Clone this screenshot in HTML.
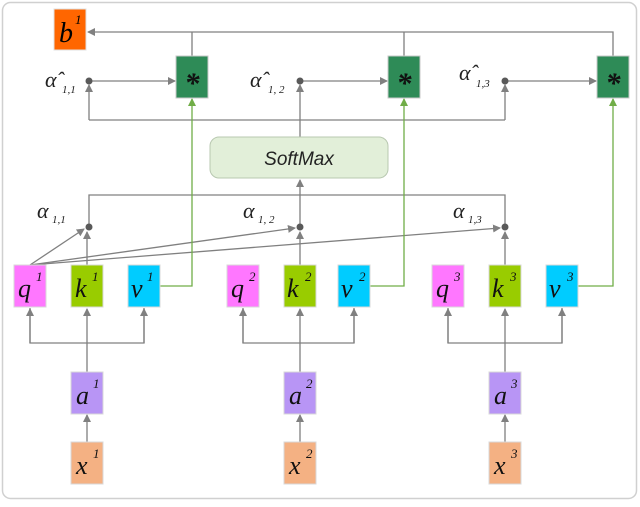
<!DOCTYPE html>
<html><head><style>
body{margin:0;background:#fff}
svg text{font-family:"Liberation Serif",serif;font-style:italic}
</style></head><body>
<svg width="640" height="502" viewBox="0 0 640 502" xmlns="http://www.w3.org/2000/svg">
<defs>
<marker id="g" markerWidth="8" markerHeight="8" refX="7" refY="4" orient="auto" markerUnits="userSpaceOnUse"><path d="M0,0 L8,4 L0,8 z" fill="#808080"/></marker>
<marker id="gr" markerWidth="8" markerHeight="8" refX="7" refY="4" orient="auto" markerUnits="userSpaceOnUse"><path d="M0,0 L8,4 L0,8 z" fill="#70ad47"/></marker>
</defs>
<rect x="2.5" y="2.5" width="634" height="496" rx="8" fill="#fff" stroke="#d0d0d0" stroke-width="1.5"/>
<g stroke="#808080" stroke-width="1.3" fill="none">
<!-- top line to b1 -->
<polyline points="613,56 613,32 88,32" marker-end="url(#g)"/>
<line x1="192" y1="56" x2="192" y2="32"/>
<line x1="404" y1="56" x2="404" y2="32"/>
<!-- alpha hat to stars -->
<line x1="89" y1="81" x2="175" y2="81" marker-end="url(#g)"/>
<line x1="300" y1="81" x2="387" y2="81" marker-end="url(#g)"/>
<line x1="505" y1="81" x2="596" y2="81" marker-end="url(#g)"/>
<!-- softmax output -->
<line x1="89" y1="120" x2="505" y2="120"/>
<line x1="89" y1="120" x2="89" y2="85" marker-end="url(#g)"/>
<line x1="300" y1="137" x2="300" y2="85" marker-end="url(#g)"/>
<line x1="505" y1="120" x2="505" y2="85" marker-end="url(#g)"/>
<!-- softmax input -->
<polyline points="89,227 89,195 505,195 505,227"/>
<line x1="300" y1="227" x2="300" y2="180" marker-end="url(#g)"/>
<!-- k to dots -->
<line x1="87" y1="265" x2="87" y2="232" marker-end="url(#g)"/>
<line x1="300" y1="265" x2="300" y2="232" marker-end="url(#g)"/>
<line x1="505" y1="265" x2="505" y2="232" marker-end="url(#g)"/>
<!-- q1 to dots -->
<line x1="30" y1="265" x2="84" y2="229" marker-end="url(#g)"/>
<line x1="30" y1="265" x2="295" y2="228" marker-end="url(#g)"/>
<line x1="30" y1="265" x2="500" y2="228" marker-end="url(#g)"/>
<!-- a to qkv -->
<polyline points="30,308 30,343 144,343 144,308" />
<line x1="30" y1="343" x2="30" y2="309" marker-end="url(#g)"/>
<line x1="144" y1="343" x2="144" y2="309" marker-end="url(#g)"/>
<line x1="87" y1="372" x2="87" y2="309" marker-end="url(#g)"/>
<polyline points="243,308 243,343 354,343 354,308"/>
<line x1="243" y1="343" x2="243" y2="309" marker-end="url(#g)"/>
<line x1="354" y1="343" x2="354" y2="309" marker-end="url(#g)"/>
<line x1="300" y1="372" x2="300" y2="309" marker-end="url(#g)"/>
<polyline points="448,308 448,343 562,343 562,308"/>
<line x1="448" y1="343" x2="448" y2="309" marker-end="url(#g)"/>
<line x1="562" y1="343" x2="562" y2="309" marker-end="url(#g)"/>
<line x1="505" y1="372" x2="505" y2="309" marker-end="url(#g)"/>
<!-- x to a -->
<line x1="87" y1="442" x2="87" y2="415" marker-end="url(#g)"/>
<line x1="300" y1="442" x2="300" y2="415" marker-end="url(#g)"/>
<line x1="505" y1="442" x2="505" y2="415" marker-end="url(#g)"/>
</g>
<g stroke="#70ad47" stroke-width="1.3" fill="none">
<polyline points="160,286 192,286 192,99" marker-end="url(#gr)"/>
<polyline points="369,286 404,286 404,99" marker-end="url(#gr)"/>
<polyline points="578,286 613,286 613,99" marker-end="url(#gr)"/>
</g>
<g fill="#595959">
<circle cx="89" cy="81" r="3.5"/><circle cx="300" cy="81" r="3.5"/><circle cx="505" cy="81" r="3.5"/>
<circle cx="89" cy="227" r="3.5"/><circle cx="300" cy="227" r="3.5"/><circle cx="505" cy="227" r="3.5"/>
</g>
<!-- boxes -->
<rect x="54" y="9" width="32" height="41" fill="#ff6600" stroke="#e0e0e0"/>
<text x="59" y="42" font-size="28">b</text><text x="75" y="24" font-size="13" font-style="normal">1</text>
<g fill="#2e8b57" stroke="#c8c8c8">
<rect x="176" y="56" width="32" height="42"/><rect x="388" y="56" width="32" height="42"/><rect x="597" y="56" width="32" height="42"/>
</g>
<g font-size="30" font-style="normal" font-weight="bold" fill="#111" text-anchor="middle" style="font-family:'DejaVu Sans',sans-serif">
<text x="192" y="93">*</text><text x="404" y="93">*</text><text x="613" y="93">*</text>
</g>
<rect x="210" y="137" width="178" height="41" rx="9" fill="#e2efd9" stroke="#b8c8b0"/>
<text x="299" y="165" font-size="19" font-style="normal" text-anchor="middle" style="font-family:'Liberation Sans',sans-serif" fill="#222">SoftMax</text>
<!-- alpha labels -->
<g fill="#222">
<text x="45" y="87" font-size="22">α̂</text><text x="62" y="93" font-size="11" font-style="normal">1,1</text>
<text x="250" y="87" font-size="22">α̂</text><text x="268" y="93" font-size="11" font-style="normal">1, 2</text>
<text x="459" y="80" font-size="22">α̂</text><text x="476" y="87" font-size="11" font-style="normal">1,3</text>
<text x="37" y="218" font-size="22">α</text><text x="52" y="223" font-size="11" font-style="normal">1,1</text>
<text x="243" y="218" font-size="22">α</text><text x="258" y="223" font-size="11" font-style="normal">1, 2</text>
<text x="453" y="218" font-size="22">α</text><text x="468" y="223" font-size="11" font-style="normal">1,3</text>
</g>
<!-- qkv -->
<g stroke="#d8d8d8">
<rect x="14" y="265" width="32" height="42" fill="#ff77ff"/>
<rect x="71" y="265" width="32" height="42" fill="#99cc00"/>
<rect x="128" y="265" width="32" height="42" fill="#00ccff"/>
<rect x="227" y="265" width="32" height="42" fill="#ff77ff"/>
<rect x="284" y="265" width="32" height="42" fill="#99cc00"/>
<rect x="338" y="265" width="32" height="42" fill="#00ccff"/>
<rect x="432" y="265" width="32" height="42" fill="#ff77ff"/>
<rect x="489" y="265" width="32" height="42" fill="#99cc00"/>
<rect x="546" y="265" width="32" height="42" fill="#00ccff"/>
<rect x="71" y="372" width="32" height="42" fill="#b895f5"/>
<rect x="284" y="372" width="32" height="42" fill="#b895f5"/>
<rect x="489" y="372" width="32" height="42" fill="#b895f5"/>
<rect x="71" y="442" width="32" height="42" fill="#f4b183"/>
<rect x="284" y="442" width="32" height="42" fill="#f4b183"/>
<rect x="489" y="442" width="32" height="42" fill="#f4b183"/>
</g>
<g fill="#111" font-size="26">
<text x="18" y="297">q</text><text x="75" y="297">k</text><text x="131" y="297">v</text>
<text x="231" y="297">q</text><text x="287" y="297">k</text><text x="341" y="297">v</text>
<text x="436" y="297">q</text><text x="492" y="297">k</text><text x="549" y="297">v</text>
<text x="76" y="404">a</text><text x="289" y="404">a</text><text x="494" y="404">a</text>
<text x="76" y="474">x</text><text x="289" y="474">x</text><text x="494" y="474">x</text>
</g>
<g fill="#111" font-size="13" font-style="normal">
<text x="36" y="281">1</text><text x="92" y="281">1</text><text x="147" y="281">1</text>
<text x="249" y="281">2</text><text x="305" y="281">2</text><text x="359" y="281">2</text>
<text x="454" y="281">3</text><text x="510" y="281">3</text><text x="567" y="281">3</text>
<text x="93" y="388">1</text><text x="306" y="388">2</text><text x="511" y="388">3</text>
<text x="93" y="458">1</text><text x="306" y="458">2</text><text x="511" y="458">3</text>
</g>
</svg>
</body></html>
